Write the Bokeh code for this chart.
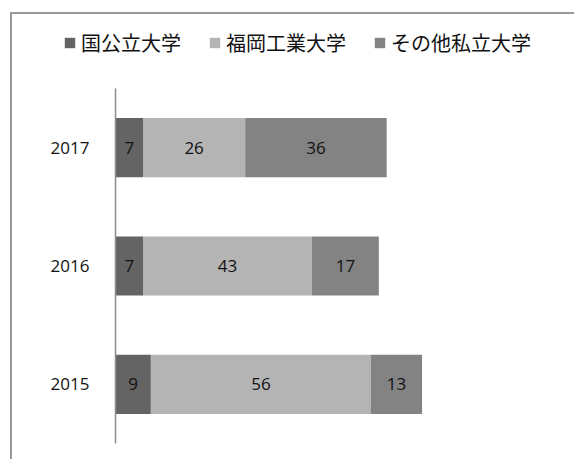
from bokeh.plotting import figure
from bokeh.layouts import column
from bokeh.models import FactorRange, Range1d, ColumnDataSource, Legend, LegendItem
from bokeh.core.properties import value
from bokeh.embed import file_html
from bokeh.resources import INLINE

years = ["2015", "2016", "2017"]
series_names = ["国公立大学", "福岡工業大学", "その他私立大学"]
national = [9, 7, 7]
fit = [56, 43, 26]
other = [13, 17, 36]
colors = ["#646464", "#b4b4b4", "#838383"]

keys = ["s0", "s1", "s2"]
src = ColumnDataSource(dict(year=years, s0=national, s1=fit, s2=other))

# ---- main chart ----
p = figure(width=562, height=371, y_range=FactorRange(factors=years, range_padding=0),
           x_range=Range1d(0, 100), output_backend="svg", toolbar_location=None,
           min_border_left=103, min_border_right=66, min_border_top=0, min_border_bottom=16)
p.frame_align = False

rs = p.hbar_stack(keys, y="year", height=0.5, color=colors, line_color=None, source=src)

lx, ly, lt = [], [], []
for i, y in enumerate(years):
    left = 0
    for vals in (national, fit, other):
        v = vals[i]
        lx.append(left + v / 2)
        ly.append(y)
        lt.append(str(v))
        left += v
p.text(x=lx, y=ly, text=lt, text_align="center", text_baseline="middle",
       text_font=value("Open Sans"), text_font_size="17px", text_color="#111111")

p.xaxis.visible = False
p.xgrid.grid_line_color = None
p.ygrid.grid_line_color = None
p.outline_line_color = None
p.yaxis.axis_line_color = "#8c8c8c"
p.yaxis.axis_line_width = 1.5
p.yaxis.major_tick_line_color = None
p.yaxis.minor_tick_line_color = None
p.yaxis.major_label_standoff = 20
p.yaxis.major_label_text_font = "Open Sans"
p.yaxis.major_label_text_font_size = "17px"
p.yaxis.major_label_text_color = "#111111"

# ---- legend strip (same series, drawn outside its visible range; only the legend shows) ----
lf = figure(width=562, height=74, x_range=Range1d(-2, -1),
            y_range=FactorRange(factors=years, range_padding=0),
            output_backend="svg", toolbar_location=None,
            min_border_left=0, min_border_right=0, min_border_top=0, min_border_bottom=0)
lf.frame_align = False
lf.axis.visible = False
lf.grid.grid_line_color = None
lf.outline_line_color = None
icons = lf.hbar_stack(keys, y="year", height=0.5, color=colors, line_color=None, source=src)

lg = Legend(items=[LegendItem(label=n, renderers=[r]) for n, r in zip(series_names, icons)])
lg.orientation = "horizontal"
lg.location = (51, 31)
lg.padding = 0
lg.margin = 0
lg.spacing = 27
lg.label_standoff = 5
lg.glyph_width = 13
lg.glyph_height = 13
lg.label_height = 20
lg.border_line_color = None
lg.background_fill_alpha = 0
lg.label_text_font = "Noto Sans CJK JP"
lg.label_text_font_size = "20px"
lg.label_text_color = "#111111"
lf.add_layout(lg)

page = column(lf, p, spacing=0)
page.styles = {"margin-left": "10px", "margin-top": "12px",
               "border-left": "2px solid #999999", "border-top": "2px solid #999999"}

open("out.html", "w").write(file_html(page, INLINE))
